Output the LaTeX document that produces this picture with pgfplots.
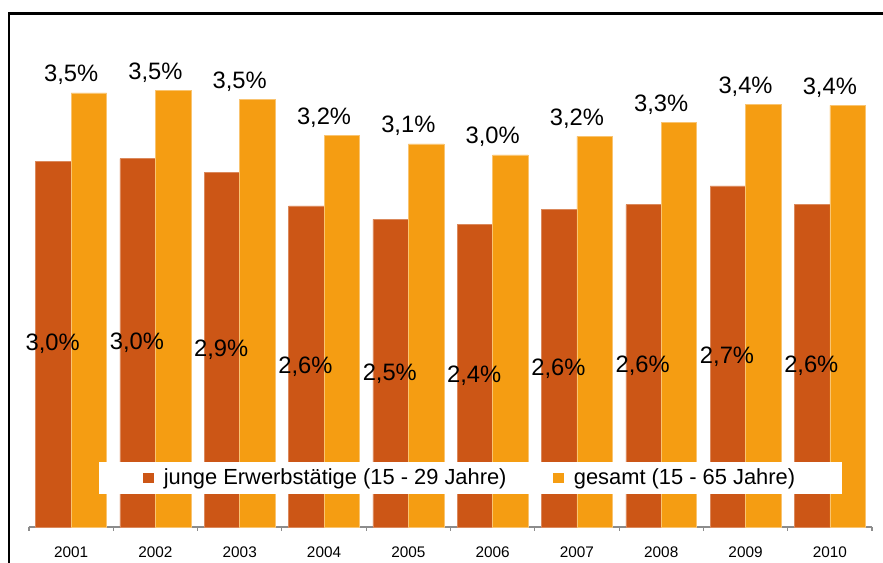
\documentclass[border=0pt]{standalone}
\usepackage{pgfplots}
\pgfplotsset{compat=1.18}
\usepackage{pgfplotstable}
\usepackage{fontspec}
\setmainfont{Liberation Sans}
\definecolor{cRed}{RGB}{204,86,22}
\definecolor{cOrange}{RGB}{245,157,18}
\definecolor{cAxis}{RGB}{140,140,140}
\pgfplotstableread{
x jung ges ljung lges
0 2.95 3.50 3,0 3,5
1 2.97 3.52 3,0 3,5
2 2.86 3.45 2,9 3,5
3 2.59 3.16 2,6 3,2
4 2.48 3.09 2,5 3,1
5 2.44 3.00 2,4 3,0
6 2.56 3.15 2,6 3,2
7 2.60 3.26 2,6 3,3
8 2.75 3.41 2,7 3,4
9 2.60 3.40 2,6 3,4
}\data
\begin{document}
\begin{tikzpicture}
\useasboundingbox (-21.75pt,-27pt) rectangle (640.5pt,395.25pt);
\begin{axis}[
  scale only axis,
  width=632.25pt, height=372pt,
  xmin=-0.5, xmax=9.5, ymin=0, ymax=4,
  axis x line*=bottom, axis y line=none,
  axis line style={cAxis, line width=0.8pt},
  ytick=\empty,
  xtick={0,...,9},
  xticklabels={2001,2002,2003,2004,2005,2006,2007,2008,2009,2010},
  major tick length=0pt,
  minor xtick={-0.5,0.5,...,9.5},
  minor tick length=3pt,
  tick align=outside,
  minor tick style={cAxis, line width=0.8pt},
  xticklabel style={font=\fontsize{11.5}{13}\selectfont, yshift=-11.5pt},
  /pgf/number format/assume math mode=true,
  legend columns=2,
  legend style={at={(rel axis cs:0.5237,0.0988)}, anchor=center, draw=none, fill=white,
    font=\fontsize{16.4}{19}\selectfont, inner xsep=33pt, inner ysep=3pt,
    /tikz/every even column/.append style={column sep=33pt}},
  clip=false,
]
\addplot[ybar, bar width=26.6pt, bar shift=-13.3pt, fill=cRed, draw=cRed!70!white, line width=0.4pt,
  legend image code/.code={\fill[cRed, draw=none] (0pt,-4.1pt) rectangle (8.25pt,4.1pt); \path[draw=none, fill=none] (0pt,0pt) -- (13.5pt,0pt);}]
  table[x=x, y=jung] {\data};
\addlegendentry{junge Erwerbstätige (15 - 29 Jahre)}
\addplot[ybar, bar width=26.6pt, bar shift=13.3pt, fill=cOrange, draw=cOrange!60!white, line width=0.4pt,
  legend image code/.code={\fill[cOrange, draw=none] (0pt,-4.1pt) rectangle (8.25pt,4.1pt); \path[draw=none, fill=none] (0pt,0pt) -- (13.5pt,0pt);},
  point meta=explicit symbolic,
  nodes near coords={\pgfplotspointmeta\%},
  nodes near coords style={anchor=base, yshift=8.25pt, font=\fontsize{17.8}{20}\selectfont, text=black}]
  table[x=x, y=ges, meta=lges] {\data};
\addlegendentry{gesamt (15 - 65 Jahre)}
\addplot[draw=none, mark=none, forget plot,
  point meta=explicit symbolic,
  nodes near coords={\pgfplotspointmeta\%},
  nodes near coords style={anchor=center, font=\fontsize{17.8}{20}\selectfont, text=black}]
  table[x expr=\thisrow{x}-0.22, y expr=\thisrow{jung}/2, meta=ljung] {\data};
\end{axis}
\draw[line width=1.9pt] (-15pt,-40pt) -- (-15pt,385.1pt) -- (700pt,385.1pt);
\end{tikzpicture}
\end{document}
